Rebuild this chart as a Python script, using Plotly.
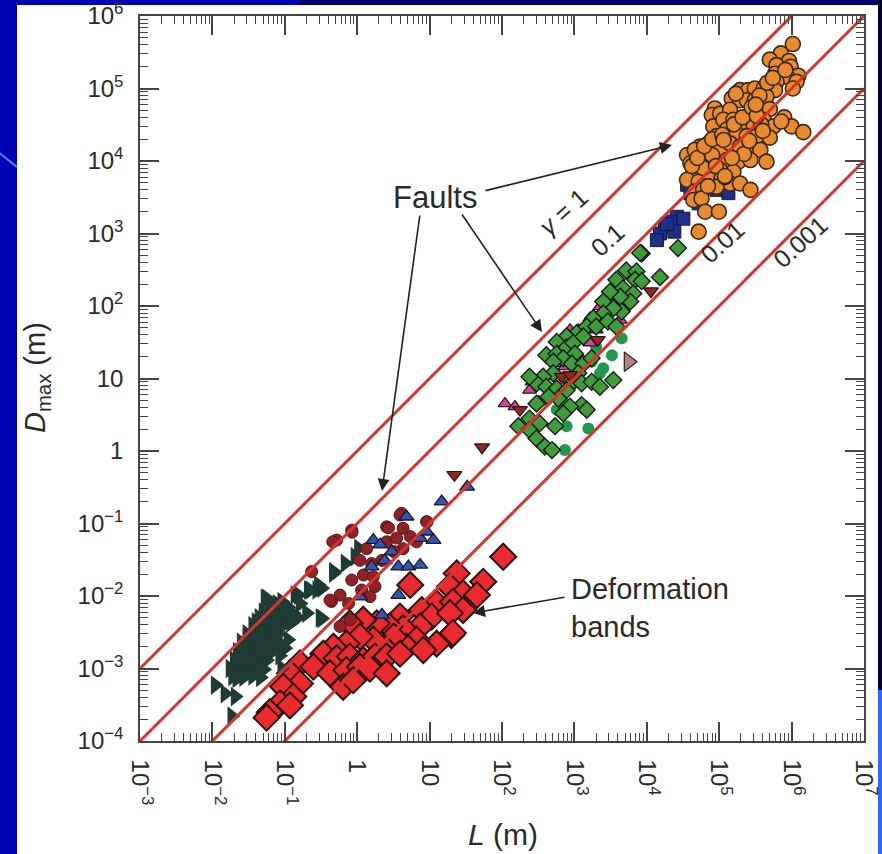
import plotly.graph_objects as go

# ---------------- data (L in m, Dmax in m) ----------------
orange_L = [1.04e6, 7.1e5, 5.0e5, 9.2e5, 6.2e5, 9.7e5, 5.9e5, 1.24e6, 8.6e5, 6.2e5, 1.17e6, 1.04e6,
            5.9e5, 1.94e5, 2.5e5, 3.1e5, 4.1e5, 1.49e5, 1.94e5, 2.4e5, 3.1e5, 4.5e5, 8.7e4, 7.9e4,
            1.03e5, 1.41e5, 5.0e5, 7.9e5, 8.3e4, 1.14e5, 1.57e5, 2.2e5, 3.0e5, 4.1e5, 5.6e5, 1.0e6,
            1.45e6, 5.4e4, 7.1e4, 9.2e4, 1.27e5, 1.74e5, 2.4e5, 3.3e5, 5.0e5, 3.6e4, 4.6e4, 6.7e4,
            1.03e5, 1.41e5, 1.94e5, 2.7e5, 3.7e5, 4.0e4, 5.7e4, 8.3e4, 1.27e5, 1.84e5, 2.7e5, 4.5e5,
            4.4e4, 6.7e4, 1.03e5, 1.57e5, 3.6e4, 5.2e4, 7.5e4, 1.08e5, 1.41e5, 1.94e5, 2.7e5, 4.6e4,
            6.0e4, 4.4e4, 5.7e4, 9.2e4, 6.4e4, 9.9e4, 5.2e4, 6.0e4, 8.0e4, 1.2e5,
            4.2e4, 5.0e4, 6.2e4, 8.0e4, 1.1e5, 1.6e5, 2.1e5, 2.8e5, 3.6e5, 4.6e5, 5.5e5, 3.8e5,
            4.0e5, 2.2e5, 1.5e5, 9.0e4, 7.0e4, 1.2e5, 3.3e5, 2.6e5, 1.15e5, 7.2e5, 8.2e5, 3.2e5,
            1.7e5]
orange_D = [4.1e5, 3.05e5, 2.5e5, 2.4e5, 2.1e5, 2.0e5, 1.6e5, 1.5e5, 1.46e5, 1.24e5, 1.24e5, 1.0e5,
            9.5e4, 9.5e4, 9.5e4, 1.0e5, 1.0e5, 7.3e4, 6.9e4, 6.9e4, 6.9e4, 7.7e4, 5.3e4, 4.3e4,
            4.5e4, 5.1e4, 5.2e4, 4.0e4, 3.0e4, 3.7e4, 3.7e4, 3.0e4, 3.0e4, 3.7e4, 3.0e4, 3.0e4,
            2.5e4, 1.58e4, 1.75e4, 2.2e4, 2.7e4, 2.4e4, 2.2e4, 2.2e4, 2.1e4, 1.21e4, 1.42e4, 1.35e4,
            1.42e4, 1.75e4, 1.58e4, 1.58e4, 1.42e4, 9.3e3, 9.8e3, 9.8e3, 1.03e4, 9.8e3, 1.03e4, 9.8e3,
            7.5e3, 6.8e3, 7.5e3, 7.1e3, 5.5e3, 5.2e3, 5.5e3, 5.8e3, 4.9e3, 4.9e3, 4.0e3, 3.8e3,
            4.0e3, 2.9e3, 3.05e3, 4.4e3, 2.0e3, 2.0e3, 1.06e3, 8.0e3, 1.2e4, 6.0e3,
            8.5e3, 1.1e4, 1.6e4, 2.0e4, 2.3e4, 3.2e4, 4.0e4, 5.5e4, 8.0e4, 1.2e5, 1.4e5, 3.2e4,
            2.6e4, 1.25e4, 1.1e4, 8.5e3, 4.5e3, 6.2e3, 4.2e4, 1.9e4, 1.95e4, 3.5e4, 1.8e5, 6.0e4,
            8.5e4]

navy_L = [3.6e4, 4.0e4, 9.2e4, 1.34e5, 5.2e4, 2.6e4, 3.2e4, 2.1e4, 1.78e4, 2.4e4, 1.52e4,
          4.3e5, 1.38e4, 1.9e4]
navy_D = [4.7e3, 3.6e3, 4.0e3, 3.6e3, 2.6e3, 1.7e3, 1.6e3, 1.46e3, 1.24e3, 1.06e3, 1.0e3,
          5.1e4, 8.1e2, 1.35e3]

gdiam_L = [8.5e3, 5.2e3, 7.2e3, 6.9e3, 8.5e3, 3.8e3, 4.7e3, 6.5e3, 5.9e3, 4.3e3, 3.1e3, 4.5e3,
           3.45e3, 2.5e3, 2.5e3, 1.82e3, 1.48e3, 2.0e3, 2.9e3, 3.8e3, 1.07e3, 7.8e2, 5.7e2, 4.1e2,
           5.7e2, 7.8e2, 9.7e2, 1.33e3, 1.02e3, 7.0e2, 5.1e2, 9.2e2, 1.33e3, 1.73e3, 1.13e3, 9.2e2,
           1.26e3, 1.73e3, 2.25e3, 3.45e3, 5.1e2, 3.7e2, 3.0e2, 2.4e2, 4.1e2, 5.7e2, 7.8e2, 6.0e2,
           4.4e2, 3.0e2, 2.4e2, 1.68e2, 3.3e2, 5.4e2, 2.4e2, 3.0e2, 3.9e2, 4.9e2, 1.26e3, 1.48e3,
           8.7e2, 7.0e2, 8.1e3, 2.7e4, 1.52e4]
gdiam_D = [5.3e2, 3.1e2, 3.0e2, 2.3e2, 2.2e2, 2.3e2, 1.75e2, 1.49e2, 1.15e2, 1.34e2, 1.57e2, 84,
           93, 1.15e2, 79, 68, 52, 52, 61, 52, 42, 38, 32, 21,
           22, 27, 31, 38, 22, 19, 17, 16, 16, 19, 11.8, 8.6,
           8.6, 9.0, 7.7, 9.5, 11.8, 10.6, 8.6, 10.6, 7.7, 7.3, 6.9, 5.3,
           5.6, 4.5, 2.8, 2.2, 2.4, 2.2, 1.95, 1.49, 1.15, 1.03, 4.3, 3.7,
           4.1, 3.3, 5.4e2, 6.3e2, 2.5e2]

pink_L = [1.1e2, 1.51e2, 2.6e2, 2.4e2, 3.2e2, 3.7e2, 6.7e2, 7.4e2, 1.13e3, 1.64e3, 2.25e3,
          3.1e3, 2.8e3, 2.0e3, 1.64e3, 8.7e2, 4.3e3]
pink_D = [4.5, 4.1, 9.0, 6.9, 4.8, 10.6, 16, 14.6, 47, 68, 98,
          1.34e2, 58, 47, 31, 47, 64]

gcirc_L = [4.5e3, 3.3e3, 2.0e3, 2.5e3, 1.73e3, 2.25e3, 7.8e2, 5.7e2, 7.8e2, 1.56e3, 4.9e2, 7.4e2]
gcirc_D = [36, 21, 27, 13.8, 17, 11.8, 4.3, 3.7, 2.2, 2.05, 1.09, 1.03]

dred_L = [53, 22, 1.14e4, 6.7e2, 8.7e2, 2.1e3, 1.77e2]
dred_D = [1.13, 0.47, 1.6e2, 10.6, 11.2, 34, 3.7]

mauve_L = [5.6e3]
mauve_D = [17]

maroon_L = [4.1, 2.55, 0.84, 0.52, 1.35, 2.55, 3.5, 4.3, 5.4, 6.6, 4.3, 9.1, 1.09, 1.58, 2.2,
            3.2, 0.235, 0.84, 1.22, 1.67, 1.76, 1.15, 0.58, 0.44, 1.5, 0.76, 0.58, 0.80, 0.42,
            0.46, 0.85, 2.7, 3.9, 9.2]
maroon_D = [0.138, 0.090, 0.081, 0.059, 0.045, 0.056, 0.063, 0.086, 0.066, 0.056, 0.045, 0.106,
            0.031, 0.028, 0.031, 0.041, 0.0217, 0.0166, 0.0195, 0.0185, 0.0135, 0.0121, 0.0103,
            0.0084, 0.0098, 0.0079, 0.0038, 0.0047, 0.0088, 0.056, 0.076, 0.087, 0.131, 0.105]

blue_L = [4.8, 14.7, 1.67, 2.07, 3.0, 1.58, 2.4, 3.7, 5.1, 7.4, 7.4, 9.1, 11.3, 1.09, 33, 3.7, 2.2]
blue_D = [0.124, 0.20, 0.059, 0.051, 0.041, 0.0254, 0.031, 0.0254, 0.0254, 0.0268, 0.063, 0.077,
          0.059, 0.0098, 0.32, 0.0103, 0.0055]

slate_L = [0.060, 0.072, 0.086, 0.044, 0.055, 0.068, 0.085, 0.105, 0.036, 0.047, 0.060, 0.075,
           0.093, 0.030, 0.039, 0.050, 0.064, 0.080, 0.025, 0.032, 0.042, 0.054, 0.068, 0.088,
           0.022, 0.029, 0.038, 0.048, 0.061, 0.020, 0.026, 0.034, 0.044, 0.056, 0.0175, 0.024,
           0.031, 0.040, 0.051, 0.019, 0.027, 0.036, 0.046, 0.13, 0.15, 0.12, 0.10, 0.085, 0.11,
           0.050, 0.040, 0.058, 0.072, 0.035, 0.045, 0.028, 0.036, 0.065, 0.095, 0.11, 0.078,
           0.023, 0.031, 0.052, 0.070,
           0.021, 0.025, 0.027, 0.033, 0.030, 0.037, 0.042, 0.046, 0.050, 0.055, 0.058, 0.063,
           0.070, 0.076, 0.081, 0.090, 0.098, 0.040, 0.033, 0.053, 0.045, 0.062, 0.029, 0.038,
           0.115, 0.068,
           0.0533, 0.138, 0.211, 0.291, 0.469, 0.0906, 0.162, 0.324, 0.2, 0.0217, 0.0109, 0.0149,
           0.0206, 0.0185, 0.0906, 0.47, 0.68, 0.93, 1.04, 0.223, 0.323, 0.154, 0.276, 0.056, 0.306]
slate_D = [0.0066, 0.0061, 0.0068, 0.0050, 0.0047, 0.0052, 0.0046, 0.0051, 0.0039, 0.0036, 0.0040,
           0.0037, 0.0039, 0.0030, 0.0028, 0.0031, 0.0029, 0.0030, 0.0023, 0.0022, 0.0024, 0.0021,
           0.0023, 0.0022, 0.0017, 0.0018, 0.0016, 0.0017, 0.0016, 0.0013, 0.00135, 0.0013, 0.00128,
           0.0013, 0.0010, 0.00102, 0.00098, 0.00104, 0.00097, 0.00078, 0.00076, 0.00079, 0.00075,
           0.0058, 0.0050, 0.0042, 0.0019, 0.0015, 0.0025,
           0.0060, 0.0044, 0.0034, 0.0027, 0.0025, 0.0019, 0.0015, 0.0011, 0.0042, 0.0058, 0.0070,
           0.0078, 0.0012, 0.00088, 0.0014, 0.0018,
           0.0011, 0.0016, 0.0021, 0.0019, 0.0026, 0.0032, 0.0027, 0.0022, 0.0035, 0.0028, 0.0043,
           0.0055, 0.0033, 0.0045, 0.0057, 0.0048, 0.0064, 0.0014, 0.0016, 0.0019, 0.0031, 0.0024,
           0.0012, 0.0021, 0.0055, 0.0072,
           0.0093, 0.0103, 0.0121, 0.0142, 0.0206, 0.0084, 0.0079, 0.0049, 0.0058, 0.00073, 0.00059,
           0.00045, 0.00041, 0.00022, 0.00101, 0.0217, 0.0283, 0.0349, 0.0455, 0.0121, 0.0128,
           0.0103, 0.0121, 0.0093, 0.005]

red_L = [104, 23.7, 55, 5.4, 19.1, 29, 45, 12.5, 21, 7.8, 3.9, 10.7, 29, 19.1, 7.4, 4.3, 2.8, 1.86,
         1.21, 0.79, 20, 12.5, 6.6, 4.8, 3.2, 2.3, 1.67, 1.09, 0.71, 0.47, 0.34, 0.52, 0.79, 1.21,
         1.76, 2.55, 3.9, 8.2, 0.162, 0.248, 0.42, 0.71, 1.09, 1.5, 2.55, 0.118, 0.162, 0.095,
         0.131, 0.64, 0.88, 0.086, 0.062, 0.118, 0.056, 21]
red_D = [0.0348, 0.0205, 0.0157, 0.0142, 0.0134, 0.0109, 0.0103, 0.0079, 0.0083, 0.0064, 0.0052,
         0.0052, 0.0064, 0.0058, 0.0038, 0.0036, 0.0038, 0.0042, 0.0047, 0.0042, 0.0029, 0.0022,
         0.0025, 0.002, 0.00275, 0.002, 0.0025, 0.00275, 0.0022, 0.002, 0.0016, 0.00138, 0.00146,
         0.00131, 0.00146, 0.00146, 0.0016, 0.0018, 0.00118, 0.00106, 0.00086, 0.00095, 0.00106,
         0.001, 0.00086, 0.00086, 0.00062, 0.00056, 0.00041, 0.00056, 0.00069, 0.00033, 0.00025,
         0.00031, 0.00021, 0.0031]

# reference lines D = gamma * L
GAMMA = [1, 0.1, 0.01, 0.001]
GAMMA_LABELS = ["<i>γ</i> = 1", "0.1", "0.01", "0.001"]
LINE_L = [1e-3, 1e7]

X_TICKS = [1e-3, 1e-2, 1e-1, 1, 10, 1e2, 1e3, 1e4, 1e5, 1e6, 1e7]
X_TEXT = ["10<sup>−3</sup>", "10<sup>−2</sup>", "10<sup>−1</sup>", "1", "10", "10<sup>2</sup>",
          "10<sup>3</sup>", "10<sup>4</sup>", "10<sup>5</sup>", "10<sup>6</sup>", "10<sup>7</sup>"]
Y_TICKS = [1e-4, 1e-3, 1e-2, 1e-1, 1, 10, 1e2, 1e3, 1e4, 1e5, 1e6]
Y_TEXT = ["10<sup>−4</sup>", "10<sup>−3</sup>", "10<sup>−2</sup>", "10<sup>−1</sup>", "1", "10",
          "10<sup>2</sup>", "10<sup>3</sup>", "10<sup>4</sup>", "10<sup>5</sup>", "10<sup>6</sup>"]

# ---------------- figure ----------------
W, H = 882, 854
ML, MR, MT, MB = 140, 18, 16, 113
PW, PH = W - ML - MR, H - MT - MB
FONT = "Liberation Sans, Arial, Helvetica, sans-serif"
INK = "#2a2a2a"


def px(x):
    return (x - ML) / PW


def py(y):
    return (H - MB - y) / PH


fig = go.Figure()


def add(L, D, symbol, size, color, lc="#1e1e1e", lw=1.2):
    fig.add_trace(go.Scatter(x=L, y=D, mode="markers", hoverinfo="skip",
                             marker=dict(symbol=symbol, size=size, color=color,
                                         line=dict(color=lc, width=lw))))


add(red_L, red_D, "diamond", 20, "#ea2a2e", "#2a1212", 2)
add(slate_L, slate_D, "triangle-right", 17, "#1f3b36", "#1f3b36", 0)
add(maroon_L, maroon_D, "circle", 12, "#8e2326", "#5a1518", 1)
add(blue_L, blue_D, "triangle-up", 13, "#3454ad", "#1a1a2a", 1.3)
add(gcirc_L, gcirc_D, "circle", 12, "#1f9a4c", "#1f9a4c", 0)
add(pink_L, pink_D, "triangle-up", 12, "#d9449e", "#2a1a22", 1.3)
add(gdiam_L, gdiam_D, "diamond", 13, "#3f9c3b", "#1a1a1a", 1.4)
add(dred_L, dred_D, "triangle-down", 13, "#8c2a24", "#2a1010", 1.2)
add(mauve_L, mauve_D, "triangle-right", 17, "#b58080", "#3a2a2a", 1.3)
add(navy_L, navy_D, "square", 13, "#1f2f88", "#141a44", 1)
add(orange_L, orange_D, "circle", 15, "#e98a2f", "#3a2a1c", 1.6)

for g in GAMMA:
    fig.add_trace(go.Scatter(x=LINE_L, y=[g * v for v in LINE_L], mode="lines",
                             hoverinfo="skip", line=dict(color="#d9342c", width=3)))

axis_common = dict(type="log", showgrid=False, zeroline=False, showline=True,
                   linecolor="#444", linewidth=1.5, mirror="allticks", ticks="inside",
                   ticklen=19, tickwidth=1.5, tickcolor="#444", automargin=False,
                   ticklabeloverflow="allow",
                   tickfont=dict(family=FONT, size=24, color=INK), tickmode="array",
                   minor=dict(ticks="inside", ticklen=8, tickwidth=1, tickcolor="#444",
                              showgrid=False))

minor_x = [m * 10.0 ** e for e in range(-3, 7) for m in range(2, 10)]
minor_y = [m * 10.0 ** e for e in range(-4, 6) for m in range(2, 10)]

xa = dict(axis_common)
xa.update(range=[-3, 7], tickvals=X_TICKS, ticktext=X_TEXT, tickangle=90,
          ticklabelstandoff=12)
xa["minor"] = dict(axis_common["minor"], tickvals=minor_x)
ya = dict(axis_common)
ya.update(range=[-4, 6], tickvals=Y_TICKS, ticktext=Y_TEXT, ticklabelstandoff=10)
ya["minor"] = dict(axis_common["minor"], tickvals=minor_y)

shapes = [
    dict(type="rect", xref="paper", yref="paper", x0=px(17), x1=px(878), y0=py(860), y1=py(5),
         fillcolor="white", line=dict(width=0), layer="below"),
    dict(type="rect", xref="paper", yref="paper", x0=px(300), x1=px(882), y0=py(5), y1=py(-2),
         fillcolor="#000070", line=dict(width=0), layer="below"),
    dict(type="rect", xref="paper", yref="paper", x0=px(878), x1=px(884), y0=py(690), y1=py(-2),
         fillcolor="#000028", line=dict(width=0), layer="below"),
    dict(type="rect", xref="paper", yref="paper", x0=px(878), x1=px(884), y0=py(860), y1=py(690),
         fillcolor="#3366ff", line=dict(width=0), layer="below"),
    dict(type="line", xref="paper", yref="paper", x0=px(-2), y0=py(152), x1=px(17), y1=py(167),
         line=dict(color="#4d8cff", width=2), layer="below"),
]

ann_font = dict(family=FONT, size=29, color=INK)
C = dict(xanchor="center", yanchor="middle", showarrow=False)
annotations = [
    dict(xref="paper", yref="paper", x=px(37), y=py(378), text="<i>D</i><sub>max</sub> (m)",
         textangle=-90, font=ann_font, **C),
    dict(xref="paper", yref="paper", x=px(503), y=py(834), text="<i>L</i> (m)",
         font=dict(ann_font, size=30), **C),
    dict(xref="paper", yref="paper", x=px(435), y=py(197), text="Faults",
         font=dict(ann_font, size=31), **C),
    dict(xref="paper", yref="paper", x=px(569), y=py(608), text="Deformation<br>bands",
         xanchor="left", yanchor="middle", align="left", showarrow=False, font=ann_font),
]
arrows = [((672, 145), (484, 191)), ((382, 491), (420, 214)), ((542, 332), (461, 213)),
          ((473, 613), (566, 597))]
for (hx, hy), (tx, ty) in arrows:
    annotations.append(dict(xref="paper", yref="paper", x=px(hx), y=py(hy), ax=tx - hx,
                            ay=ty - hy, text="", showarrow=True, arrowhead=2, arrowsize=1.5,
                            arrowwidth=1.6, arrowcolor="#222"))
label_pos = [(563, 212), (607, 240), (722, 242), (800, 242)]
for (lx, ly), t in zip(label_pos, GAMMA_LABELS):
    annotations.append(dict(xref="paper", yref="paper", x=px(lx), y=py(ly), text=t,
                            textangle=-42, font=dict(family=FONT, size=25, color=INK), **C))

fig.update_layout(width=W, height=H, margin=dict(l=ML, r=MR, t=MT, b=MB),
                  paper_bgcolor="#0000b4", plot_bgcolor="white", showlegend=False,
                  xaxis=xa, yaxis=ya, shapes=shapes, annotations=annotations)

fig.write_html("out.html")
